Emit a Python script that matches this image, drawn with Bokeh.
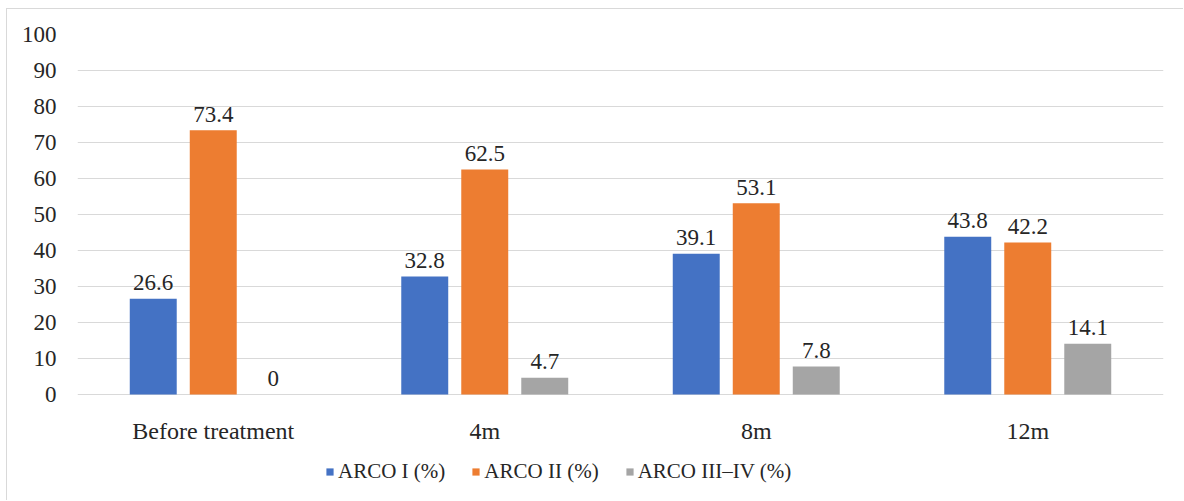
from bokeh.plotting import figure
from bokeh.models import ColumnDataSource, FactorRange, Range1d, Legend, LegendItem, FixedTicker
from bokeh.transform import dodge
from bokeh.embed import file_html
from bokeh.resources import INLINE
from bokeh.core.properties import value

categories = ["Before treatment", "4m", "8m", "12m"]
arco1 = [26.6, 32.8, 39.1, 43.8]
arco2 = [73.4, 62.5, 53.1, 42.2]
arco34 = [0, 4.7, 7.8, 14.1]
series_names = ["ARCO I (%)", "ARCO II (%)", "ARCO III\u2013IV (%)"]
y_ticks = [0, 10, 20, 30, 40, 50, 60, 70, 80, 90, 100]

colors = ["#4472C4", "#ED7D31", "#A5A5A5"]
FONT = "Liberation Serif"
TXT = "#262626"
GRID = "#d9d9d9"

src = ColumnDataSource(dict(
    cat=categories, a1=arco1, a2=arco2, a3=arco34,
    l1=[str(v) for v in arco1], l2=[str(v) for v in arco2], l3=[str(v) for v in arco34],
))
cat_src = ColumnDataSource(dict(cat=categories, y=[0] * len(categories)))

p = figure(x_range=FactorRange(*categories, range_padding=0), y_range=Range1d(-29.7, 100),
           width=1177, height=492, output_backend="svg", toolbar_location=None,
           min_border_left=70, min_border_right=21, min_border_top=25, min_border_bottom=0)
p.styles = {"border-left": "1px solid #d9d9d9", "border-top": "1px solid #d9d9d9",
            "margin-left": "6px", "margin-top": "8px"}
p.outline_line_color = None
p.background_fill_color = "white"
p.border_fill_color = "white"

offs = [-0.221, 0.0, 0.221]
cols = ["a1", "a2", "a3"]
labs = ["l1", "l2", "l3"]
items = []
for off, c, l, col, name in zip(offs, cols, labs, colors, series_names):
    r = p.vbar(x=dodge("cat", off, range=p.x_range), top=c, width=0.173, source=src,
               fill_color=col, line_color=None)
    p.text(x=dodge("cat", off, range=p.x_range), y=c, text=l, source=src,
           text_align="center", text_baseline="alphabetic", y_offset=-16,
           text_font=value(FONT), text_font_size="23px", text_color=TXT)
    items.append(LegendItem(label=name, renderers=[r]))

# category labels under the zero line
p.text(x="cat", y="y", text="cat", source=cat_src, text_align="center",
       text_baseline="alphabetic", y_offset=36,
       text_font=value(FONT), text_font_size="24px", text_color=TXT)

p.xaxis.visible = False
p.xgrid.grid_line_color = None
p.ygrid.grid_line_color = GRID
p.ygrid.grid_line_width = 1
p.yaxis.ticker = FixedTicker(ticks=y_ticks)
p.ygrid.ticker = FixedTicker(ticks=y_ticks)

ax = p.yaxis[0]
ax.major_tick_line_color = None
ax.minor_tick_line_color = None
ax.axis_line_color = None
ax.major_label_text_font = FONT
ax.major_label_text_font_size = "23px"
ax.major_label_text_color = TXT
ax.major_label_standoff = 15

legend = Legend(items=items, orientation="horizontal", location=(248, 17),
                label_text_font=FONT, label_text_font_size="21px", label_text_color=TXT,
                glyph_width=9, glyph_height=9, label_standoff=4, spacing=26,
                padding=0, margin=0, border_line_color=None, background_fill_alpha=0)
p.add_layout(legend, "center")

open("out.html", "w").write(file_html(p, INLINE))
